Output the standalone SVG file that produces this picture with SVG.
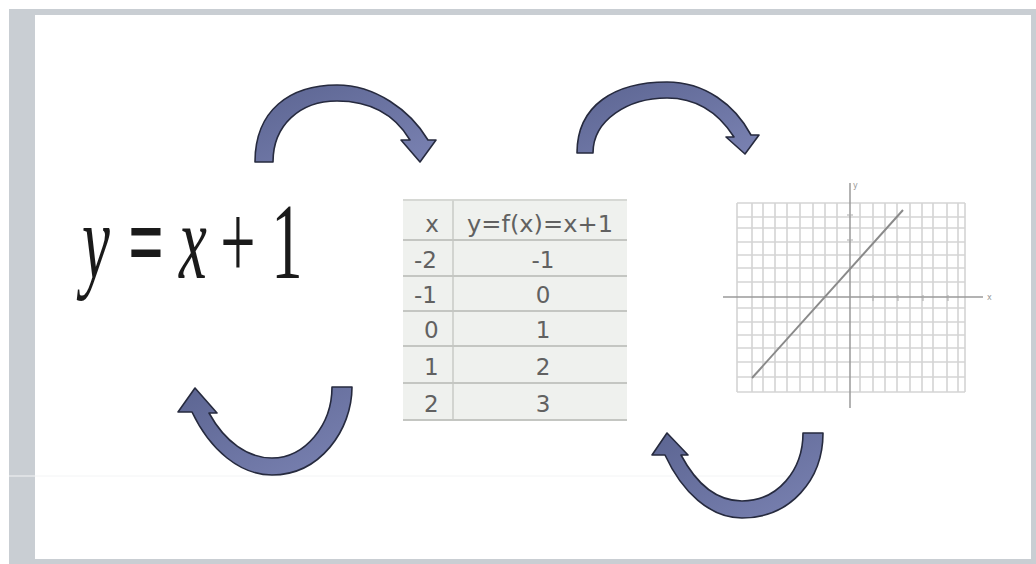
<svg xmlns="http://www.w3.org/2000/svg" width="1036" height="564" viewBox="0 0 1036 564">
<style>
.frame{fill:#c9ced3}
.eq{font-family:"Liberation Serif","Times New Roman",serif;font-size:108px;fill:#1a1a1a}
.it{font-style:italic}
.tt{font-family:"DejaVu Sans","Verdana",sans-serif;font-size:23px;fill:#616161}
.rowline{stroke:#c4c6c2;stroke-width:2}
.grid line{stroke:#d4d4d4;stroke-width:1.6}
.axis{stroke:#9a9a9a;stroke-width:1.5}
.tick{stroke:#aaa;stroke-width:1}
.lbl{font-family:"DejaVu Sans",sans-serif;font-size:8px;fill:#999}
.arrow{fill:url(#ag);stroke:#262a3e;stroke-width:1.6;stroke-linejoin:round}
</style>
<defs>
<linearGradient id="ag" x1="0" y1="0" x2="1" y2="1">
<stop offset="0" stop-color="#5c6592"/>
<stop offset="1" stop-color="#7a82b2"/>
</linearGradient>
</defs>
<rect x="0" y="0" width="1036" height="564" fill="#ffffff"/>
<g id="frame">
<rect class="frame" x="9" y="9" width="1027" height="6"/>
<rect class="frame" x="9" y="9" width="26" height="555"/>
<rect class="frame" x="1031" y="9" width="5" height="555"/>
<rect class="frame" x="9" y="559" width="1027" height="5"/>
<line x1="9" y1="476" x2="35" y2="476" stroke="#e4e7ea" stroke-width="1.5"/>
<line x1="35" y1="476" x2="813" y2="476" stroke="#f3f4f5" stroke-width="1"/>
</g>
<g id="node-equation">
<g transform="matrix(0.58 0 0 1 0 0)">
<text class="eq it" x="165.5" y="278" text-anchor="middle">y</text>
<text class="eq" x="251.7" y="278" text-anchor="middle" font-weight="bold">=</text>
<text class="eq it" x="332.8" y="278" text-anchor="middle">x</text>
<text class="eq" x="410.3" y="278" text-anchor="middle" fill="#5a3a30">+</text>
<text class="eq" x="494.8" y="278" text-anchor="middle">1</text>
</g>
</g>
<g id="node-table">
<rect x="403" y="200" width="224" height="220" fill="#eff1ee"/>
<line x1="403" y1="200" x2="627" y2="200" stroke="#d6d8d4" stroke-width="2"/>
<line x1="453" y1="200" x2="453" y2="420" stroke="#d2d4d0" stroke-width="2"/>
<line class="rowline" x1="403" y1="240" x2="627" y2="240"/>
<line class="rowline" x1="403" y1="276" x2="627" y2="276"/>
<line class="rowline" x1="403" y1="311" x2="627" y2="311"/>
<line class="rowline" x1="403" y1="346" x2="627" y2="346"/>
<line class="rowline" x1="403" y1="383" x2="627" y2="383"/>
<line class="rowline" x1="403" y1="420" x2="627" y2="420"/>
<text class="tt" x="432" y="232" text-anchor="middle">x</text>
<text class="tt" x="467" y="232" textLength="146" lengthAdjust="spacingAndGlyphs">y=f(x)=x+1</text>
<text class="tt" x="414" y="268">-2</text>
<text class="tt" x="414" y="303">-1</text>
<text class="tt" x="424" y="338">0</text>
<text class="tt" x="424" y="375">1</text>
<text class="tt" x="424" y="412">2</text>
<text class="tt" x="543" y="268" text-anchor="middle">-1</text>
<text class="tt" x="543" y="303" text-anchor="middle">0</text>
<text class="tt" x="543" y="338" text-anchor="middle">1</text>
<text class="tt" x="543" y="375" text-anchor="middle">2</text>
<text class="tt" x="543" y="412" text-anchor="middle">3</text>
</g>
<g id="node-graph">
<g class="grid">
<line x1="737" y1="203" x2="737" y2="392"/><line x1="752" y1="203" x2="752" y2="392"/>
<line x1="763" y1="203" x2="763" y2="392"/><line x1="775" y1="203" x2="775" y2="392"/>
<line x1="787" y1="203" x2="787" y2="392"/><line x1="800" y1="203" x2="800" y2="392"/>
<line x1="813" y1="203" x2="813" y2="392"/><line x1="825" y1="203" x2="825" y2="392"/>
<line x1="837" y1="203" x2="837" y2="392"/><line x1="860" y1="203" x2="860" y2="392"/>
<line x1="873" y1="203" x2="873" y2="392"/><line x1="885" y1="203" x2="885" y2="392"/>
<line x1="897" y1="203" x2="897" y2="392"/><line x1="910" y1="203" x2="910" y2="392"/>
<line x1="922" y1="203" x2="922" y2="392"/><line x1="933" y1="203" x2="933" y2="392"/>
<line x1="947" y1="203" x2="947" y2="392"/><line x1="958" y1="203" x2="958" y2="392"/>
<line x1="965" y1="203" x2="965" y2="392"/>
<line x1="737" y1="203" x2="965" y2="203"/><line x1="737" y1="217" x2="965" y2="217"/>
<line x1="737" y1="228" x2="965" y2="228"/><line x1="737" y1="242" x2="965" y2="242"/>
<line x1="737" y1="255" x2="965" y2="255"/><line x1="737" y1="268" x2="965" y2="268"/>
<line x1="737" y1="282" x2="965" y2="282"/><line x1="737" y1="308" x2="965" y2="308"/>
<line x1="737" y1="322" x2="965" y2="322"/><line x1="737" y1="335" x2="965" y2="335"/>
<line x1="737" y1="348" x2="965" y2="348"/><line x1="737" y1="362" x2="965" y2="362"/>
<line x1="737" y1="377" x2="965" y2="377"/><line x1="737" y1="392" x2="965" y2="392"/>
</g>
<line class="axis" x1="723" y1="297" x2="983" y2="297"/>
<line class="axis" x1="850" y1="183" x2="850" y2="408"/>
<line class="tick" x1="873" y1="295" x2="873" y2="301"/>
<line class="tick" x1="898" y1="295" x2="898" y2="301"/>
<line class="tick" x1="923" y1="295" x2="923" y2="301"/>
<line class="tick" x1="948" y1="295" x2="948" y2="301"/>
<line class="tick" x1="847" y1="215" x2="853" y2="215"/>
<line class="tick" x1="847" y1="240" x2="853" y2="240"/>
<text class="lbl" x="853" y="188">y</text>
<text class="lbl" x="987" y="300">x</text>
<line x1="752" y1="378" x2="903" y2="210" stroke="#8a8a8a" stroke-width="2"/>
</g>
<g id="connectors">
<path id="arrow-eq-table" class="arrow" d="M 255 162 C 255 110 290 85 337 85 C 375 85 410 110 428 140 L 436 140 L 420 162 L 401 140 L 410 140 C 395 115 370 101 337 101 C 300 101 273 125 273 162 Z"/>
<path id="arrow-table-graph" class="arrow" d="M 577 153 C 577 105 615 82 667 82 C 705 82 735 105 751 135 L 759 135 L 745 154 L 726 137 L 734 137 C 718 112 695 98 667 98 C 628 98 593 120 593 153 Z"/>
<path id="arrow-table-eq" class="arrow" d="M 352 387 C 352 430 320 475 272 475 C 240 475 210 450 192 412 L 178 412 L 195 388 L 217 413 L 209 413 C 225 442 248 458 272 458 C 305 458 332 425 332 387 Z"/>
<path id="arrow-graph-table" class="arrow" d="M 823 433 C 823 480 790 518 742 518 C 710 518 682 492 665 455 L 652 455 L 667 433 L 688 455 L 681 455 C 697 485 718 501 742 501 C 778 501 803 470 803 433 Z"/>
</g>
</svg>
